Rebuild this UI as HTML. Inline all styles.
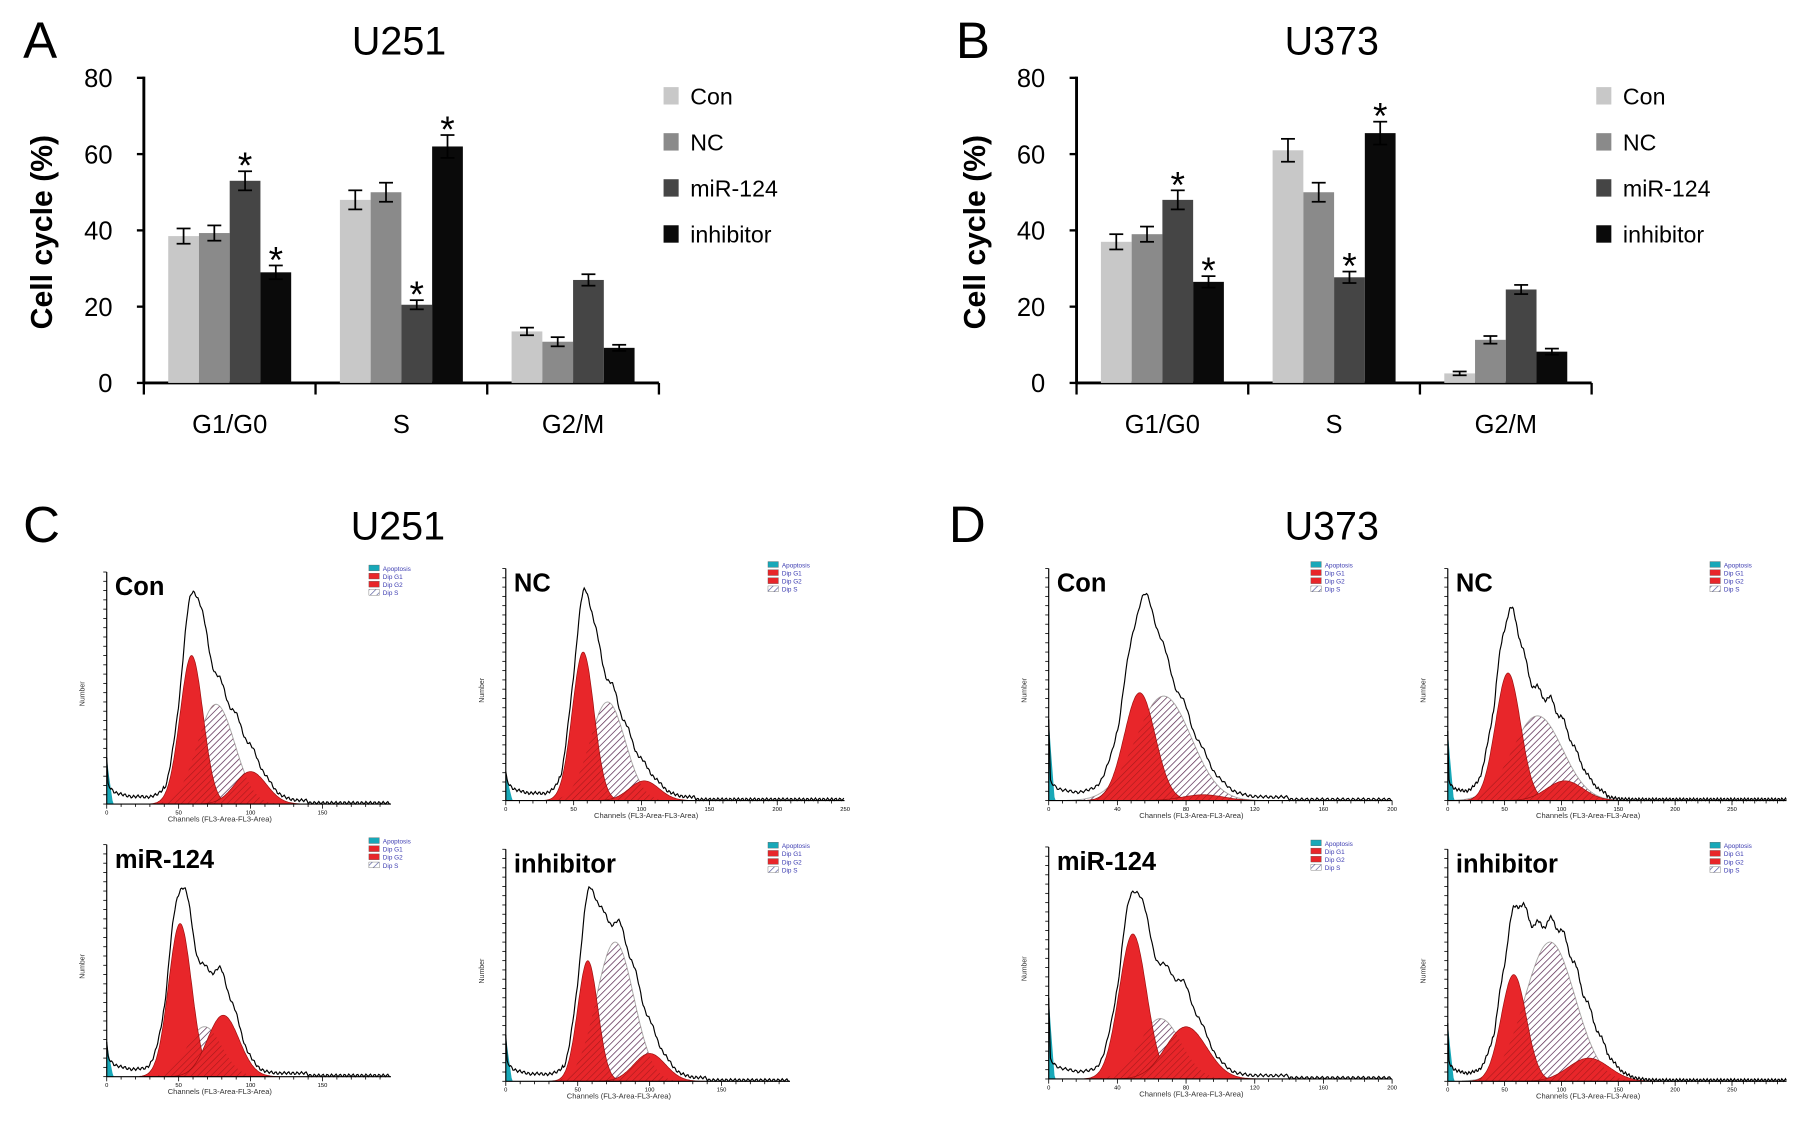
<!DOCTYPE html>
<html><head><meta charset="utf-8"><style>
html,body{margin:0;padding:0;background:#fff;}
svg{display:block;font-family:"Liberation Sans",sans-serif;}
</style></head><body>
<svg id="fig" width="1819" height="1122" viewBox="0 0 1568 967" xmlns="http://www.w3.org/2000/svg">
<defs>
<pattern id="hatch" patternUnits="userSpaceOnUse" width="4" height="4" patternTransform="rotate(45)">
<rect width="4" height="4" fill="#fff"/><line x1="0" y1="0" x2="0" y2="4" stroke="#5a5fa0" stroke-width="1.2"/></pattern>
<pattern id="hatchR" patternUnits="userSpaceOnUse" width="4" height="4" patternTransform="rotate(45)">
<line x1="0" y1="0" x2="0" y2="4" stroke="#7a1010" stroke-width="1" opacity="0.6"/></pattern>
</defs>
<g id="root"></g>
</svg>
<script>
// ---- Bar chart data ----
const phases = ["G1/G0","S","G2/M"];
const groups = ["Con","NC","miR-124","inhibitor"];
const yTicks = [0,20,40,60,80];
const u251Values = [[38.5,39.3,53,29],[48,50,20.5,62],[13.5,10.8,27,9.2]];
const u251Err = [[2,2,2.5,1.8],[2.5,2.5,1.2,3],[1,1.2,1.5,0.8]];
const u251Star = [[0,0,1,1],[0,0,1,1],[0,0,0,0]];
const u373Values = [[37,39,48,26.5],[61,50,27.7,65.5],[2.5,11.3,24.5,8.2]];
const u373Err = [[2,2,2.5,1.5],[3,2.5,1.5,3],[0.5,1,1.2,0.8]];
const u373Star = [[0,0,1,1],[0,0,1,1],[0,0,0,0]];
const barColors = ["#c8c8c8","#8a8a8a","#454545","#0a0a0a"];

// ---- Histogram data: [center channel, height, sigma] ----
const histG1 = [[59,128,8],[57,128,8],[51,132,8],[57,104,7],[53,93,9],[53,110,11],[49,125,8],[58,92,11]];
const histS  = [[76,86,13],[75,85,13],[68,43,12],[76,120,13],[67,90,16],[79,73,22],[65,52,12],[90,120,22]];
const histG2 = [[100,28,11],[102,17,11],[81,53,11],[100,24,11],[90,5,12],[103,17,16],[80,45,12],[124,20,18]];
const histApop = [40,25,30,40,70,60,70,50];
const histLabels = ["Con","NC","miR-124","inhibitor","Con","NC","miR-124","inhibitor"];

const NS="http://www.w3.org/2000/svg";
const root=document.getElementById('root');
function el(tag,attrs,parent,text){const e=document.createElementNS(NS,tag);for(const k in attrs)e.setAttribute(k,attrs[k]);if(text!==undefined)e.textContent=text;(parent||root).appendChild(e);return e;}

function barChart(ox,letter,title,values,errs,stars,key){
  const g=el('g',{});
  
  
  const x0=ox, x1=ox+444, y0=330, y80=67;
  const ys=v=>y0-(v/80)*(y0-y80);
  const t1=el('text',{x:ox-104,y:50,'font-size':44},g,letter);
  
  const t2=el('text',{x:ox+220,y:47,'font-size':34,'text-anchor':'middle'},g,title);
  
  const yt=el('text',{x:0,y:0,'font-size':26,'font-weight':'bold','text-anchor':'middle',transform:`translate(${ox-79},200) rotate(-90)`},g,'Cell cycle (%)');
  
  el('line',{x1:x0,y1:y80-1,x2:x0,y2:y0+1,stroke:'#000','stroke-width':2.5},g);
  el('line',{x1:x0,y1:y0,x2:x1,y2:y0,stroke:'#000','stroke-width':2.5},g);
  yTicks.forEach(t=>{el('line',{x1:x0-6,y1:ys(t),x2:x0,y2:ys(t),stroke:'#000','stroke-width':2},g);
    const l=el('text',{x:x0-27,y:ys(t)+8,'font-size':22,'text-anchor':'end'},g,t);
    });
  const gw=(x1-x0)/phases.length;
  for(let i=0;i<=phases.length;i++) el('line',{x1:x0+i*gw,y1:y0,x2:x0+i*gw,y2:y0+10,stroke:'#000','stroke-width':2},g);
  phases.forEach((p,i)=>{
    const l=el('text',{x:x0+gw*(i+0.5),y:373,'font-size':22,'text-anchor':'middle'},g,p);
    
    const bw=26.5, start=x0+i*gw+21;
    groups.forEach((gr,j)=>{
      const v=values[i][j], e=errs[i][j], bx=start+j*bw;
      const r=el('rect',{x:bx,y:ys(v),width:bw,height:y0-ys(v),fill:barColors[j]},g);
      
      
      const cx=bx+bw/2;
      el('line',{x1:cx,y1:ys(v+e),x2:cx,y2:ys(v-e),stroke:'#000','stroke-width':1.5},g);
      el('line',{x1:cx-6,y1:ys(v+e),x2:cx+6,y2:ys(v+e),stroke:'#000','stroke-width':1.5},g);
      el('line',{x1:cx-6,y1:ys(v-e),x2:cx+6,y2:ys(v-e),stroke:'#000','stroke-width':1.5},g);
      if(stars[i][j]){const s=el('text',{x:cx,y:ys(v+e)+6,'font-size':32,'text-anchor':'middle'},g,'*');
        }
    });
  });
  groups.forEach((gr,j)=>{
    const yy=83+j*39.7;
    const lg=el('g',{},g);
    
    
    el('rect',{x:x1+4,y:yy-8,width:13,height:15,fill:barColors[j]},lg);
    el('text',{x:x1+27,y:yy+7,'font-size':20},lg,gr);
  });
}
barChart(124,'A','U251',u251Values,u251Err,u251Star,'u251');
barChart(928,'B','U373',u373Values,u373Err,u373Star,'u373');

[[20,'C',343,'U251'],[818,'D',1148,'U373']].forEach(([lx,l,tx,t])=>{
  const a=el('text',{x:lx,y:467,'font-size':44},root,l);
  const b=el('text',{x:tx,y:465,'font-size':34,'text-anchor':'middle'},root,t);
});

// histogram frames: [axis x, bottom y, px per channel, axis length, channel label step]
const frames=[[92,693,1.24,245,50],[436,690,1.17,292,50],[92,928,1.24,245,50],[436,932,1.24,245,50],
              [904,690,1.48,296,40],[1248,690,0.98,292,50],[904,930,1.48,296,40],[1248,932,0.98,292,50]];
const gauss=(x,p)=>p[1]*Math.exp(-((x-p[0])**2)/(2*p[2]*p[2]));
function hist(i){
  const [ax,by,sc,len,step]=frames[i];
  const g=el('g',{});
  
  
  const top=by-200;
  const xs=c=>ax+c*sc;
  const maxC=len/sc;
  function curve(p){let d=`M${xs(p[0]-3.5*p[2])},${by}`;for(let c=p[0]-3.5*p[2];c<=p[0]+3.5*p[2];c+=0.5)d+=`L${xs(c).toFixed(1)},${(by-gauss(c,p)).toFixed(1)}`;return d+`L${xs(p[0]+3.5*p[2])},${by}Z`;}
  el('path',{d:curve(histS[i]),fill:'url(#hatch)',stroke:'#aaa','stroke-width':0.8},g);
  el('path',{d:curve(histG1[i]),fill:'#e8262a',stroke:'#a01010','stroke-width':0.6},g);
  el('path',{d:curve(histG2[i]),fill:'#e8262a',stroke:'#a01010','stroke-width':0.6},g);
  el('path',{d:curve(histS[i]),fill:'url(#hatchR)',stroke:'none'},g);
  const ap=histApop[i];
  el('path',{d:`M${ax},${by}L${ax},${by-ap}L${ax+2},${by-ap*0.6}L${ax+5},${by-3}L${ax+6},${by}Z`,fill:'#18a8b8'},g);
  let d=`M${ax},${by-ap}`;
  for(let c=1;c<maxC;c+=0.8){
    let v=1.08*(gauss(c,histG1[i])+gauss(c,histS[i])+gauss(c,histG2[i]));
    v+=(c<40? 12*Math.exp(-c/6)+5:0) + (c>=40&&c<140?3:1);
    const j=Math.sin(c*7.3)*Math.min(4,v*0.05)+Math.sin(c*2.1)*1.2;
    d+=`L${xs(c).toFixed(1)},${Math.min(by,by-v-j).toFixed(1)}`;
  }
  el('path',{d,fill:'none',stroke:'#000','stroke-width':1},g);
  el('line',{x1:ax,y1:top,x2:ax,y2:by,stroke:'#000','stroke-width':1},g);
  el('line',{x1:ax,y1:by,x2:ax+len,y2:by,stroke:'#000','stroke-width':1},g);
  for(let yy=by;yy>=top;yy-=8) el('line',{x1:ax-3,y1:yy,x2:ax,y2:yy,stroke:'#000','stroke-width':0.7},g);
  for(let c=0;c<=maxC;c+=step/5) el('line',{x1:xs(c),y1:by,x2:xs(c),y2:by+(c%step===0?4:2.5),stroke:'#000','stroke-width':0.7},g);
  for(let c=0;c<=maxC+1;c+=step){const t=el('text',{x:xs(c),y:by+9,'font-size':5,'text-anchor':'middle'},g,c);
    }
  const xl=el('text',{x:ax+len/2-25,y:by+15,'font-size':6.5,'text-anchor':'middle',fill:'#333'},g,'Channels (FL3-Area-FL3-Area)');
  
  const yl=el('text',{x:0,y:0,'font-size':6,'text-anchor':'middle',fill:'#333',transform:`translate(${ax-19},${by-95}) rotate(-90)`},g,'Number');
  
  const lb=el('text',{x:ax+7,y:top+20,'font-size':22,'font-weight':'bold'},g,histLabels[i]);
  
  const lx=ax+226,ly=top-6;
  const names=['Apoptosis','Dip G1','Dip G2','Dip S'];const fills=['#18a8b8','#e8262a','#e8262a','url(#hatch)'];
  names.forEach((n,k)=>{
    const lg=el('g',{},g);
    
    
    el('rect',{x:lx,y:ly+k*7,width:9,height:5,fill:fills[k],stroke:'#555','stroke-width':0.3},lg);
    el('text',{x:lx+12,y:ly+k*7+5,'font-size':5.5,fill:'#3a3ab0'},lg,n);
  });
}
for(let i=0;i<8;i++) hist(i);
</script>
</body></html>
